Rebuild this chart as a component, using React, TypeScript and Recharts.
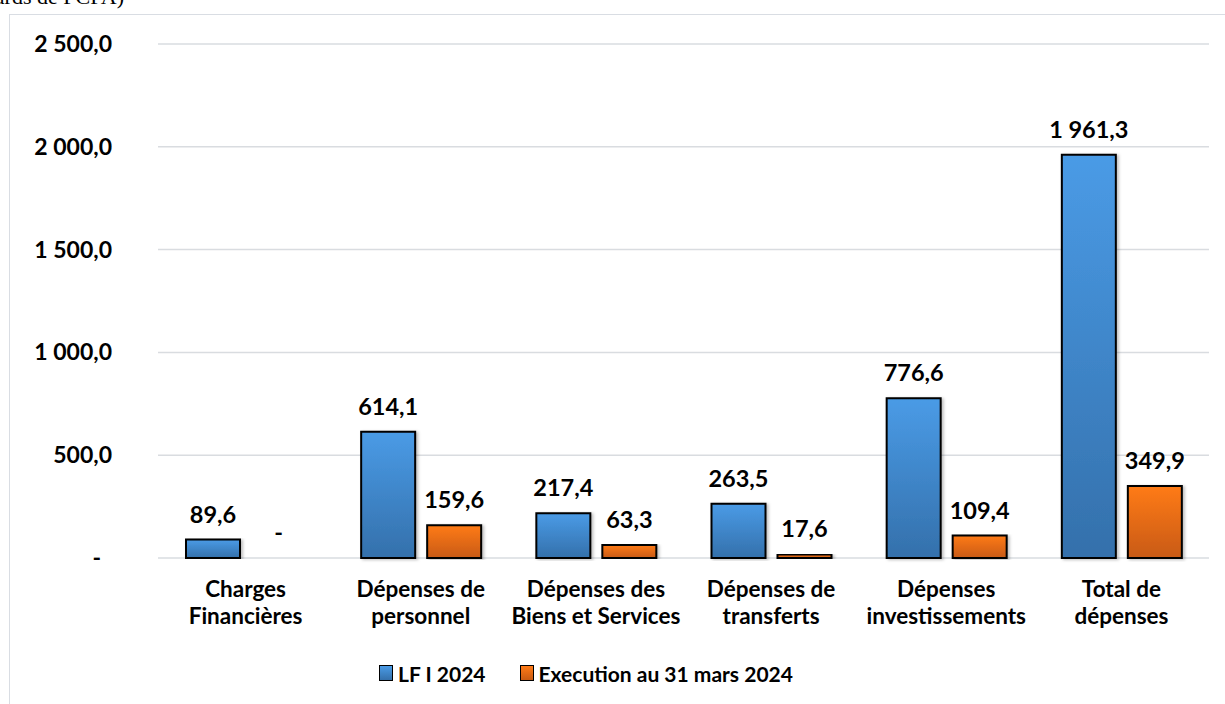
import React from 'react';
import { BarChart, Bar, XAxis, YAxis, CartesianGrid, LabelList, Legend } from 'recharts';

const categories = [
  'Charges\nFinancières',
  'Dépenses de\npersonnel',
  'Dépenses des\nBiens et Services',
  'Dépenses de\ntransferts',
  'Dépenses\ninvestissements',
  'Total de\ndépenses',
];
const lfi2024 = [89.6, 614.1, 217.4, 263.5, 776.6, 1961.3];
const execution = [0, 159.6, 63.3, 17.6, 109.4, 349.9];
const yTicks = [0, 500, 1000, 1500, 2000, 2500];
const seriesNames = ['LF I 2024', 'Execution au 31 mars 2024'];
const unitNote = '(en milliards de FCFA)';

const data = categories.map((c, i) => ({ cat: c, lfi: lfi2024[i], exec: execution[i] }));

const FONT = 'Lato, "Open Sans", sans-serif';
const BAR_SIZE = 54;
const BAR_GAP = 12;

function fmt(v: number): string {
  if (v === 0) return '-';
  const [ip, dp] = v.toFixed(1).split('.');
  const withSep = ip.replace(/\B(?=(\d{3})+(?!\d))/g, ' ');
  return withSep + ',' + dp;
}

const YTick = (props: any) => {
  const { y, payload } = props;
  const zero = payload.value === 0;
  return (
    <text x={zero ? 101 : 112} y={y} dy={8} textAnchor="end" fontFamily={FONT} fontWeight={700} fontSize={23} fill="#000">
      {fmt(payload.value)}
    </text>
  );
};

const XTick = (props: any) => {
  const { x, y, payload, index } = props;
  const lines = String(payload.value).split('\n');
  const zeroExec = execution[index] === 0;
  return (
    <g>
      {lines.map((l, i) => (
        <text key={i} x={x} y={y + 39 + i * 27} textAnchor="middle" fontFamily={FONT} fontWeight={700} fontSize={22.5} fill="#000">
          {l}
        </text>
      ))}
      {zeroExec && (
        <text x={x + (BAR_SIZE + BAR_GAP) / 2} y={y - 17} textAnchor="middle" fontFamily={FONT} fontWeight={700} fontSize={23.5} fill="#000">
          {fmt(0)}
        </text>
      )}
    </g>
  );
};

const ValueLabel = (props: any) => {
  const { x, y, width, value } = props;
  if (Number(value) === 0) return null;
  return (
    <text x={x + width / 2} y={y - 17} textAnchor="middle" fontFamily={FONT} fontWeight={700} fontSize={23.5} fill="#000">
      {fmt(Number(value))}
    </text>
  );
};

const swatches = [
  'linear-gradient(#4a9be6, #3470ab)',
  'linear-gradient(#ff7b17, #c85a12)',
];

const LegendContent = () => (
  <div style={{ display: 'flex', justifyContent: 'center', alignItems: 'center', height: 40, fontFamily: FONT, fontWeight: 700, fontSize: 21, color: '#000' }}>
    {seriesNames.map((n, i) => (
      <div key={n} style={{ display: 'flex', alignItems: 'center', marginLeft: i ? 34 : 0 }}>
        <span style={{ display: 'inline-block', width: 12, height: 14, border: '1.5px solid #000', background: swatches[i], marginRight: 5, boxSizing: 'content-box' }} />
        <span>{n}</span>
      </div>
    ))}
  </div>
);

export default function App() {
  return (
    <div style={{ position: 'absolute', left: 0, top: 0, width: 1225, height: 704, overflow: 'hidden', background: '#fff' }}>
      <div style={{ position: 'absolute', left: 9, top: 14, width: 1400, height: 900, border: '1.5px solid #d9dde3' }} />
      <svg style={{ position: 'absolute', left: 0, top: 0 }} width={1225} height={20}>
        <text x={124} y={4} textAnchor="end" fontFamily='"Liberation Serif", serif' fontSize={22} fill="#000">{unitNote}</text>
      </svg>
      <div style={{ position: 'absolute', left: 0, top: 0 }}>
        <BarChart width={1225} height={704} data={data} margin={{ top: 44, right: 16, bottom: 76, left: 0 }} barSize={BAR_SIZE} barGap={BAR_GAP}>
          <defs>
            <linearGradient id="gBlue" x1="0" y1="0" x2="0" y2="1">
              <stop offset="0%" stopColor="#4a9be6" />
              <stop offset="100%" stopColor="#3470ab" />
            </linearGradient>
            <linearGradient id="gOrange" x1="0" y1="0" x2="0" y2="1">
              <stop offset="0%" stopColor="#ff7b17" />
              <stop offset="100%" stopColor="#c85a12" />
            </linearGradient>
            <filter id="shadow" x="-20%" y="-5%" width="140%" height="110%">
              <feDropShadow dx="2" dy="1" stdDeviation="1.5" floodColor="#000" floodOpacity="0.25" />
            </filter>
          </defs>
          <CartesianGrid vertical={false} stroke="#d9dce0" strokeWidth={1.5} />
          <XAxis dataKey="cat" axisLine={false} tickLine={false} tickSize={0} tickMargin={0} height={30} tick={<XTick />} interval={0} />
          <YAxis domain={[0, 2500]} ticks={yTicks} axisLine={false} tickLine={false} width={158} tick={<YTick />} interval={0} />
          <Legend verticalAlign="bottom" content={<LegendContent />} wrapperStyle={{ top: 653, left: 0, width: 1172, height: 40 }} />
          <Bar dataKey="lfi" name={seriesNames[0]} fill="url(#gBlue)" stroke="#000" strokeWidth={2} filter="url(#shadow)" isAnimationActive={false}>
            <LabelList dataKey="lfi" content={<ValueLabel />} />
          </Bar>
          <Bar dataKey="exec" name={seriesNames[1]} fill="url(#gOrange)" stroke="#000" strokeWidth={2} filter="url(#shadow)" isAnimationActive={false}>
            <LabelList dataKey="exec" content={<ValueLabel />} />
          </Bar>
        </BarChart>
      </div>
    </div>
  );
}
